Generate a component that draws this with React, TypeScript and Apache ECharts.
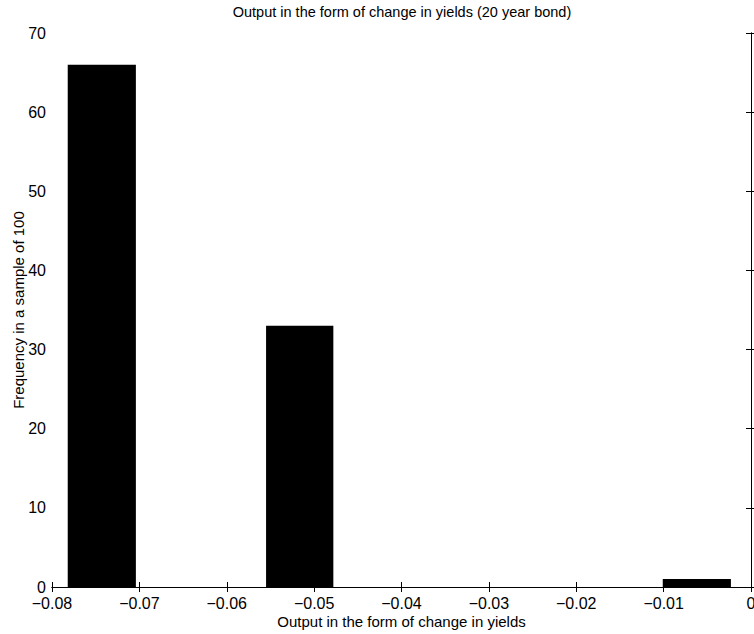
import React, { useEffect, useRef } from "react";
import * as echarts from "echarts";

const binLeft = [-0.0782, -0.0555, -0.0101];
const binRight = [-0.0704, -0.0478, -0.0023];
const counts = [66, 33, 1];

const titleText = "Output in the form of change in yields (20 year bond)";
const xName = "Output in the form of change in yields";
const yName = "Frequency in a sample of 100";

const FONT = "'Liberation Sans', Arial, Helvetica, sans-serif";

export default function App() {
  const ref = useRef<HTMLDivElement>(null);
  useEffect(() => {
    if (!ref.current) return;
    const chart = echarts.init(ref.current, null, { renderer: "svg" });
    const data = counts.map((c, i) => [binLeft[i], binRight[i], c]);
    const fmtX = (v: number) => (Math.abs(v) < 1e-9 ? "0" : "\u2212" + Math.abs(v).toFixed(2));
    const axisLine = { show: true, lineStyle: { color: "#000", width: 1 } };
    const tick = { show: true, inside: true, length: 5, lineStyle: { color: "#000", width: 1 } };
    chart.setOption({
      animation: false,
      backgroundColor: "#fff",
      textStyle: { fontFamily: FONT },
      graphic: [
        {
          type: "text",
          x: 402,
          y: 12,
          style: {
            text: titleText,
            font: `14.5px ${FONT}`,
            fill: "#000",
            align: "center",
            verticalAlign: "middle",
          },
        },
      ],
      grid: {
        left: 52,
        right: 3,
        top: 33,
        bottom: 47,
        containLabel: false,
        outerBoundsMode: "none",
      },
      xAxis: [
        {
          type: "value",
          min: -0.08,
          max: 0,
          interval: 0.01,
          position: "bottom",
          name: xName,
          nameLocation: "middle",
          nameGap: 27,
          nameMoveOverlap: false,
          nameTextStyle: { fontSize: 15, color: "#000", fontFamily: FONT },
          axisLine,
          axisTick: tick,
          splitLine: { show: false },
          axisLabel: {
            show: true,
            color: "#000",
            fontSize: 16,
            lineHeight: 16,
            fontFamily: FONT,
            margin: 8,
            formatter: fmtX,
            showMinLabel: true,
            showMaxLabel: true,
            hideOverlap: false,
          },
        },
        {
          type: "value",
          min: -0.08,
          max: 0,
          interval: 0.01,
          position: "top",
          axisLine,
          axisTick: tick,
          splitLine: { show: false },
          axisLabel: { show: false },
        },
      ],
      yAxis: [
        {
          type: "value",
          min: 0,
          max: 70,
          interval: 10,
          position: "left",
          name: yName,
          nameLocation: "middle",
          nameGap: 26,
          nameMoveOverlap: false,
          nameRotate: 90,
          nameTextStyle: { fontSize: 15, color: "#000", fontFamily: FONT },
          axisLine,
          axisTick: tick,
          splitLine: { show: false },
          axisLabel: { show: true, color: "#000", fontSize: 16, lineHeight: 12, fontFamily: FONT, margin: 6 },
        },
        {
          type: "value",
          min: 0,
          max: 70,
          interval: 10,
          position: "right",
          axisLine,
          axisTick: tick,
          splitLine: { show: false },
          axisLabel: { show: false },
        },
      ],
      series: [
        {
          type: "custom",
          xAxisIndex: 0,
          yAxisIndex: 0,
          encode: { x: [0, 1], y: 2 },
          data,
          renderItem: (params: any, api: any) => {
            const p0 = api.coord([api.value(0), 0]);
            const p1 = api.coord([api.value(1), api.value(2)]);
            return {
              type: "rect",
              shape: { x: p0[0], y: p1[1], width: p1[0] - p0[0], height: p0[1] - p1[1] },
              style: { fill: "#000" },
            };
          },
        },
      ],
    });
    return () => chart.dispose();
  }, []);
  return (
    <div
      ref={ref}
      style={{ position: "fixed", left: 0, top: 0, width: 754, height: 634, background: "#fff" }}
    />
  );
}
